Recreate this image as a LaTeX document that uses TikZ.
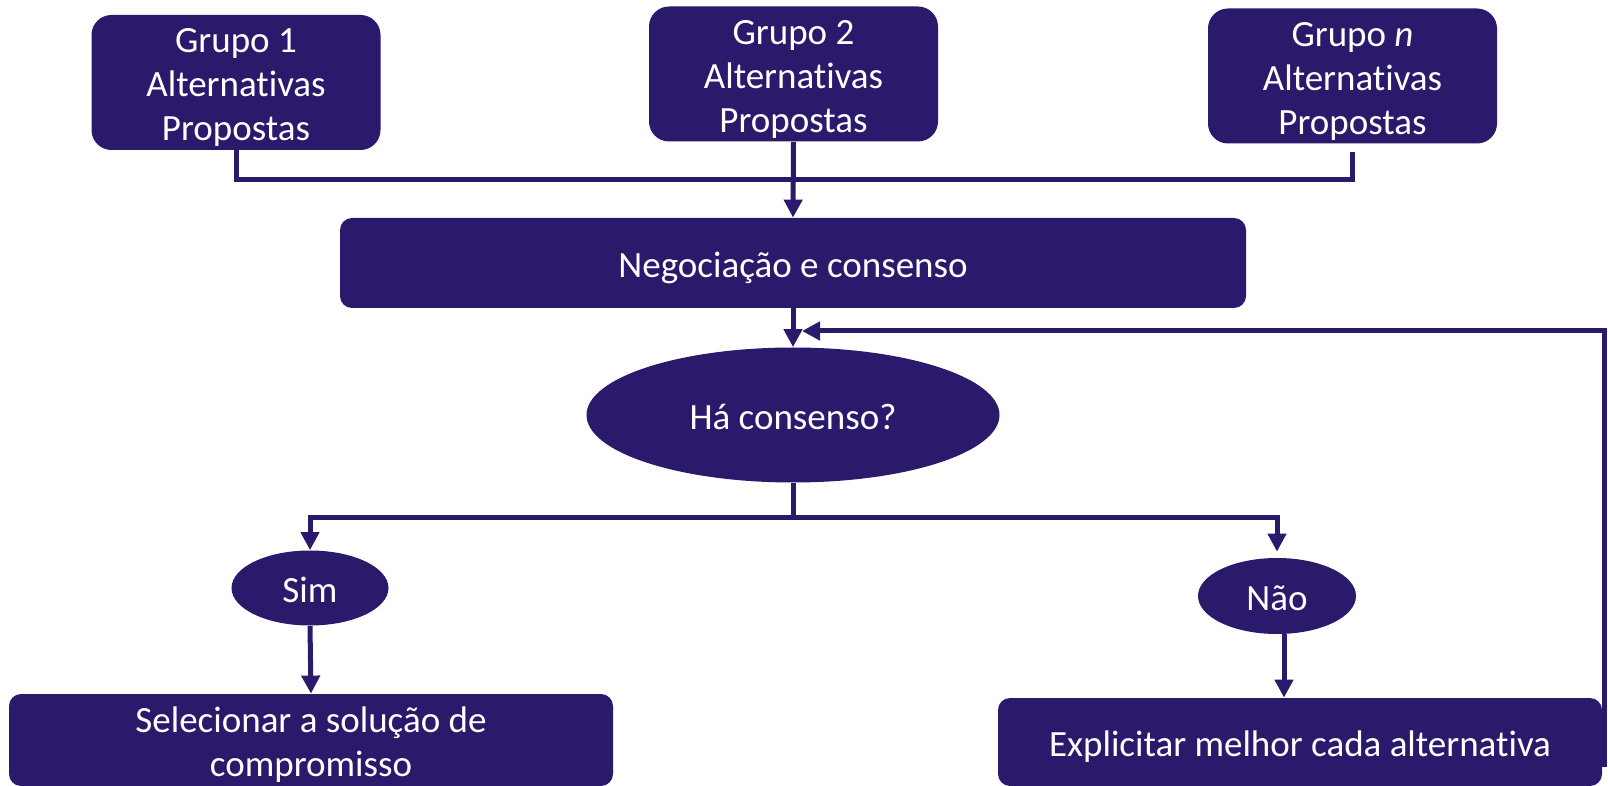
\documentclass[tikz,border=0pt]{standalone}
\usepackage{fontspec}
\setmainfont{Carlito}[Ligatures=NoCommon]
\usepackage{tikz}
\usetikzlibrary{calc, arrows, shapes, arrows.meta}
\definecolor{roxo}{RGB}{43,25,107}
\tikzset{>={Triangle[length=9pt,width=9pt]}}

\begin{document}
\begin{tikzpicture}
[x=0.5pt, y=-0.5pt, font=\fontsize{18.5}{22}\selectfont,
caixa/.style={rectangle, rounded corners=10pt, fill=roxo, text=white, align=center, inner sep=0pt, text height=19pt, text depth=4.5pt},
elipse/.style={ellipse, fill=roxo, text=white, inner sep=0pt, text height=19pt, text depth=4.5pt},
linha/.style={draw=roxo, line width=2.5pt}]
\useasboundingbox (0,0) rectangle (1608,786);
\node[caixa, minimum width=144.5pt, minimum height=66.5pt, text height=63pt] (g1) at (236,82.5) {Grupo 1\\Alternativas\\Propostas};
\node[caixa, minimum width=144.5pt, minimum height=67pt, text height=63pt] (g2) at (793.5,74) {Grupo 2\\Alternativas\\Propostas};
\node[caixa, minimum width=144.5pt, minimum height=67pt, text height=63pt] (gn) at (1352.5,76) {Grupo \textit{n}\\Alternativas\\Propostas};
\node[caixa, rounded corners=6pt, minimum width=453pt, minimum height=45pt] (neg) at (793,263) {Negociação e consenso};
\node[elipse, minimum width=206.5pt, minimum height=67.5pt] (cons) at (793,415) {Há consenso?};
\node[elipse, minimum width=78.5pt, minimum height=37.5pt] (sim) at (310,588) {Sim};
\node[elipse, minimum width=79pt, minimum height=38pt] (nao) at (1277,596) {Não};
\node[caixa, rounded corners=6pt, minimum width=302pt, minimum height=46pt, text height=41pt] (sel) at (311,740) {Selecionar a solução de\\compromisso};
\node[caixa, rounded corners=6pt, minimum width=302pt, minimum height=44pt] (expl) at (1300,742) {Explicitar melhor cada alternativa};
\coordinate (bus) at (793,180);
\coordinate (ramo) at (793,517);
\coordinate (volta) at (1604,331);
\coordinate (retorno) at (802,331);
\draw[linha] (g1.south) |- (bus) -| ([yshift=-4pt]gn.south);
\draw[linha, ->] (g2.south) -- (neg.north);
\draw[linha, ->] (neg.south) -- (cons.north);
\draw[linha, ->] (cons.south) -- (ramo) -| (sim.north);
\draw[linha, ->] (ramo) -| ([yshift=3pt]nao.north);
\draw[linha, ->] (sim.south) -- (sel.north);
\draw[linha, ->] ([xshift=3.5pt]nao.south) -- ([xshift=3.5pt]nao.south |- expl.north);
\draw[linha, ->] ([yshift=-11pt]expl.east) -| (volta) -- (retorno);
\end{tikzpicture}
\end{document}
